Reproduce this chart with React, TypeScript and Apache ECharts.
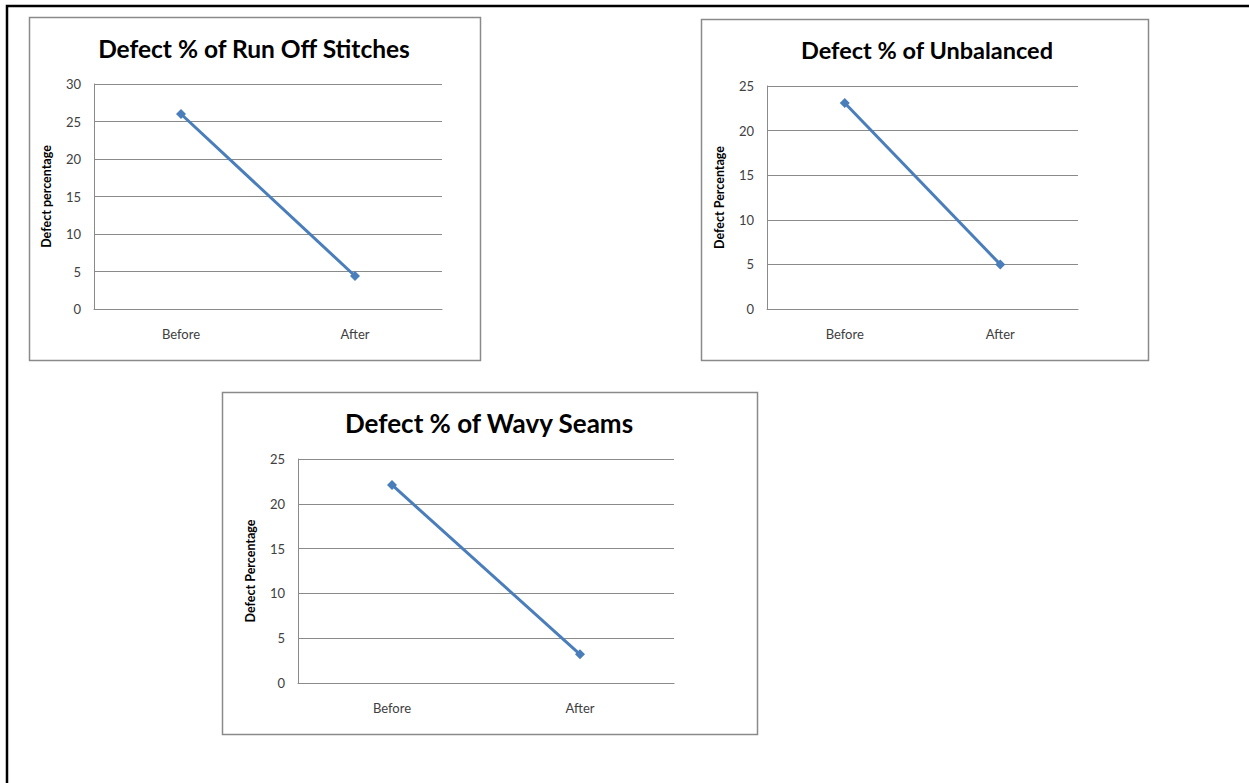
import React, { useEffect, useRef } from "react";
import * as echarts from "echarts";

const categories = ["Before", "After"];
const runOffValues = [26.0, 4.4];
const unbalancedValues = [23.1, 5.0];
const wavyValues = [22.1, 3.2];
const titles = ["Defect % of Run Off Stitches", "Defect % of Unbalanced", "Defect % of Wavy Seams"];
const axisNames = ["Defect percentage", "Defect Percentage", "Defect Percentage"];
const yMax = [30, 25, 25];

const FONT = "Lato, 'Open Sans', sans-serif";
const GREY = "#8a8a8a";
const BLUE = "#4A7EBB";

export default function App() {
  const ref = useRef<HTMLDivElement>(null);
  useEffect(() => {
    if (!ref.current) return;
    const chart = echarts.init(ref.current, undefined, { renderer: "svg" });
    const grids = [
      { left: 94, top: 84, width: 348, height: 225 },
      { left: 767, top: 86, width: 311, height: 223 },
      { left: 298, top: 459, width: 376, height: 224 },
    ];
    const series = [runOffValues, unbalancedValues, wavyValues];
    const boxes = [
      [29, 17, 480, 360],
      [701, 19, 1148, 360],
      [222, 392, 757, 734],
    ];
    const titlePos = [
      [254, 48, 24.5],
      [927, 50, 23.5],
      [489, 423, 26],
    ];
    const option: any = {
      animation: false,
      backgroundColor: "#ffffff",
      grid: grids.map((g) => ({ ...g, containLabel: false })),
      xAxis: grids.map((_, i) => ({
        type: "category",
        gridIndex: i,
        data: categories,
        boundaryGap: true,
        axisLine: { show: true, lineStyle: { color: GREY, width: 1 } },
        axisTick: { show: false },
        axisLabel: { margin: 18, color: "#404040", fontSize: 13, fontFamily: FONT },
        splitLine: { show: false },
      })),
      yAxis: grids.map((_, i) => ({
        type: "value",
        gridIndex: i,
        min: 0,
        max: yMax[i],
        interval: 5,
        name: axisNames[i],
        nameLocation: "middle",
        nameRotate: 90,
        nameGap: 41,
        nameTextStyle: { fontWeight: "bold", fontSize: 12.5, color: "#000", fontFamily: FONT },
        axisLine: { show: true, lineStyle: { color: GREY, width: 1 } },
        axisTick: { show: false },
        axisLabel: { margin: 13, color: "#404040", fontSize: 13, fontFamily: FONT },
        splitLine: { show: true, lineStyle: { color: GREY, width: 1 } },
      })),
      series: series.map((d, i) => ({
        type: "line",
        xAxisIndex: i,
        yAxisIndex: i,
        data: d,
        symbol: "diamond",
        symbolSize: 10,
        lineStyle: { color: BLUE, width: 3 },
        itemStyle: { color: BLUE },
      })),
      graphic: [
        {
          type: "polyline",
          shape: { points: [[7, 783], [7, 6], [1249, 6]] },
          style: { stroke: "#000", lineWidth: 2.5, fill: null },
          silent: true,
        },
        ...boxes.map((b) => ({
          type: "rect",
          shape: { x: b[0] + 0.5, y: b[1] + 0.5, width: b[2] - b[0], height: b[3] - b[1] },
          style: { stroke: GREY, lineWidth: 1.5, fill: null },
          silent: true,
        })),
        ...titlePos.map((p, i) => ({
          type: "text",
          x: p[0],
          y: p[1],
          style: {
            text: titles[i],
            fontSize: p[2],
            fontWeight: "bold",
            fontFamily: FONT,
            fill: "#000",
            textAlign: "center",
            textVerticalAlign: "middle",
          },
          silent: true,
        })),
      ],
    };
    chart.setOption(option);
    return () => chart.dispose();
  }, []);
  return (
    <div
      ref={ref}
      style={{ position: "absolute", left: 0, top: 0, width: 1249, height: 783, background: "#fff" }}
    />
  );
}
